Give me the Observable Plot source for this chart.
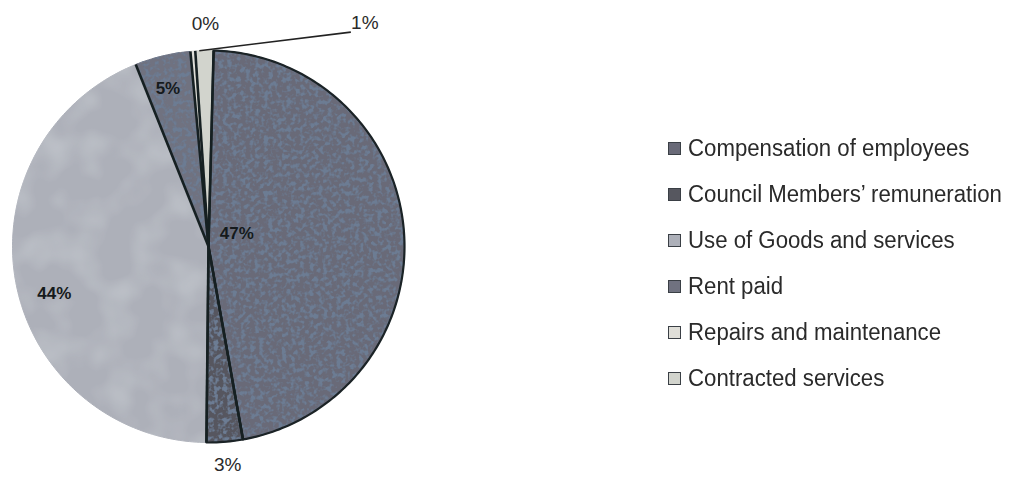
<!DOCTYPE html>
<html><head><meta charset="utf-8">
<script src="https://cdn.jsdelivr.net/npm/d3@7"></script>
<script src="https://cdn.jsdelivr.net/npm/@observablehq/plot@0.6"></script>
<style>
body{margin:0;background:#fff;font-family:"Liberation Sans",Arial,sans-serif;}
#wrap{position:relative;width:1011px;height:477px;overflow:hidden;}
#legend{position:absolute;left:668px;top:125px;}
.item{display:flex;align-items:center;height:46px;color:#2a2a2a;white-space:nowrap;}
.item span{font-size:23.5px;display:inline-block;transform:scaleX(0.945);transform-origin:left center;}
.sw{width:11px;height:11px;margin-right:7px;border:1px solid #3a3f45;box-sizing:content-box;}
</style></head><body>
<div id="wrap"><div id="chart"></div><div id="legend"></div></div>
<script>
// ---- data ----
const categories = ["Compensation of employees","Council Members’ remuneration","Use of Goods and services","Rent paid","Repairs and maintenance","Contracted services"];
const values = [47, 3, 44, 4.6, 0.4, 1.5];
const labels = ["47%","3%","44%","5%","0%","1%"];
// ---- style / layout ----
const colors = ["#696a78","#56575f","#adb0b9","#707280","#dfded8","#d2d4cd"];
const textured = [true, true, false, true, false, false];
const labelInside = [true, false, true, true, false, false];
const labelR  = [0.16, 1.12, 0.80, 0.84, 1.15, 1.15];
const labelDx = [-3, 1, 0, -2, 15, 161];
const labelDy = [-11, 0, 18, 2, 2, 2];
const startDeg = 1.5;

const W = 1011, H = 477;
const total = d3.sum(values);
const rad = d => d * Math.PI / 180;
let acc = 0;
const slices = categories.map((c, i) => {
  const a0 = rad(startDeg) + acc / total * 2 * Math.PI;
  acc += values[i];
  const a1 = rad(startDeg) + acc / total * 2 * Math.PI;
  return {cat: c, i, a0, a1, mid: (a0 + a1) / 2};
});
const pts = [];
for (const s of slices) {
  pts.push({cat: s.cat, x: 0, y: 0});
  const n = Math.max(2, Math.ceil((s.a1 - s.a0) / rad(1)));
  for (let k = 0; k <= n; k++) {
    const a = s.a0 + (s.a1 - s.a0) * k / n;
    pts.push({cat: s.cat, x: Math.sin(a), y: Math.cos(a)});
  }
  pts.push({cat: s.cat, x: 0, y: 0});
}
const bounds = slices.map(s => ({x: Math.sin(s.a0), y: Math.cos(s.a0)}));
const lab = slices.map(s => ({
  text: labels[s.i], inside: labelInside[s.i],
  x: labelR[s.i] * Math.sin(s.mid), y: labelR[s.i] * Math.cos(s.mid),
  dx: labelDx[s.i], dy: labelDy[s.i]
}));
const cs = slices[5];
const leader = [{x1: Math.sin(cs.mid - rad(1.5)), y1: Math.cos(cs.mid - rad(1.5)),
  x2: lab[5].x + (labelDx[5] - 14) / 196, y2: lab[5].y - (labelDy[5] + 9) / 196}];

const chart = Plot.plot({
  width: W, height: H,
  marginLeft: 12, marginRight: W - 404, marginTop: 50, marginBottom: 35,
  x: {domain: [-1, 1], axis: null},
  y: {domain: [-1, 1], axis: null},
  color: {domain: categories, range: colors},
  style: {background: "#fff", overflow: "visible"},
  marks: [
    Plot.line(pts, {x: "x", y: "y", z: "cat", fill: "cat", stroke: "cat", strokeWidth: 1, curve: "linear"}),
    Plot.line(pts.filter(p => p.cat === categories[0] || p.cat === categories[1]), {x: "x", y: "y", z: "cat", stroke: "#1b2326", strokeWidth: 2.2, fill: "none"}),
    Plot.link(bounds, {x1: 0, y1: 0, x2: "x", y2: "y", stroke: "#162022", strokeWidth: 2.6}),
    Plot.link(leader, {x1: "x1", y1: "y1", x2: "x2", y2: "y2", stroke: "#222", strokeWidth: 1.6}),
    Plot.text(lab.filter(d => d.inside), {x: "x", y: "y", text: "text", fontSize: 17, fontWeight: "bold", fill: "#151a1c", fontFamily: "Liberation Sans, Arial, sans-serif"}),
    Plot.text(lab.filter(d => !d.inside), {x: "x", y: "y", text: "text", fontSize: 19, fill: "#2a2a2a", fontFamily: "Liberation Sans, Arial, sans-serif"})
  ]
});
document.getElementById("chart").appendChild(chart);
const svg = d3.select(chart);
// per-label nudges (dx/dy are constants in Plot, so apply per datum here)
svg.selectAll('g[aria-label="text"]').each(function(_, gi) {
  const set = lab.filter(d => gi === 0 ? d.inside : !d.inside);
  d3.select(this).selectAll("text").each(function(_, j) {
    const t = d3.select(this);
    const tr = t.attr("transform") || "";
    t.attr("transform", tr + ` translate(${set[j].dx},${set[j].dy})`);
  });
});
// grain texture
const defs = svg.insert("defs", ":first-child");
const f = defs.append("filter").attr("id", "grain").attr("x", 0).attr("y", 0).attr("width", 1).attr("height", 1);
f.append("feTurbulence").attr("type", "fractalNoise").attr("baseFrequency", 0.22).attr("numOctaves", 2).attr("seed", 4).attr("result", "n");
f.append("feColorMatrix").attr("in", "n").attr("type", "matrix")
  .attr("values", "0 0 0 0 0.15  0 0 0 0 0.2  0 0 0 0 0.29  -4.8 0 0 0 2.6").attr("result", "spots");
f.append("feComposite").attr("in", "spots").attr("in2", "SourceGraphic").attr("operator", "in").attr("result", "s2");
const m = f.append("feMerge");
m.append("feMergeNode").attr("in", "SourceGraphic");
m.append("feMergeNode").attr("in", "s2");
const f2 = defs.append("filter").attr("id", "soft").attr("x", 0).attr("y", 0).attr("width", 1).attr("height", 1);
f2.append("feTurbulence").attr("type", "fractalNoise").attr("baseFrequency", 0.03).attr("numOctaves", 2).attr("seed", 9).attr("result", "n");
f2.append("feColorMatrix").attr("in", "n").attr("type", "matrix")
  .attr("values", "0 0 0 0 0.56  0 0 0 0 0.59  0 0 0 0 0.63  -1.2 0 0 0 0.72").attr("result", "spots");
f2.append("feComposite").attr("in", "spots").attr("in2", "SourceGraphic").attr("operator", "in").attr("result", "s2");
const m2 = f2.append("feMerge");
m2.append("feMergeNode").attr("in", "SourceGraphic");
m2.append("feMergeNode").attr("in", "s2");
svg.select('g[aria-label="line"]').selectAll("path").each(function(_, j) {
  if (textured[j]) d3.select(this).attr("filter", "url(#grain)");
  else if (j === 2) d3.select(this).attr("filter", "url(#soft)");
});
// legend
const lg = d3.select("#legend");
categories.forEach((c, i) => {
  const it = lg.append("div").attr("class", "item");
  it.append("div").attr("class", "sw").style("background", colors[i]);
  it.append("span").text(c);
});
</script></body></html>
